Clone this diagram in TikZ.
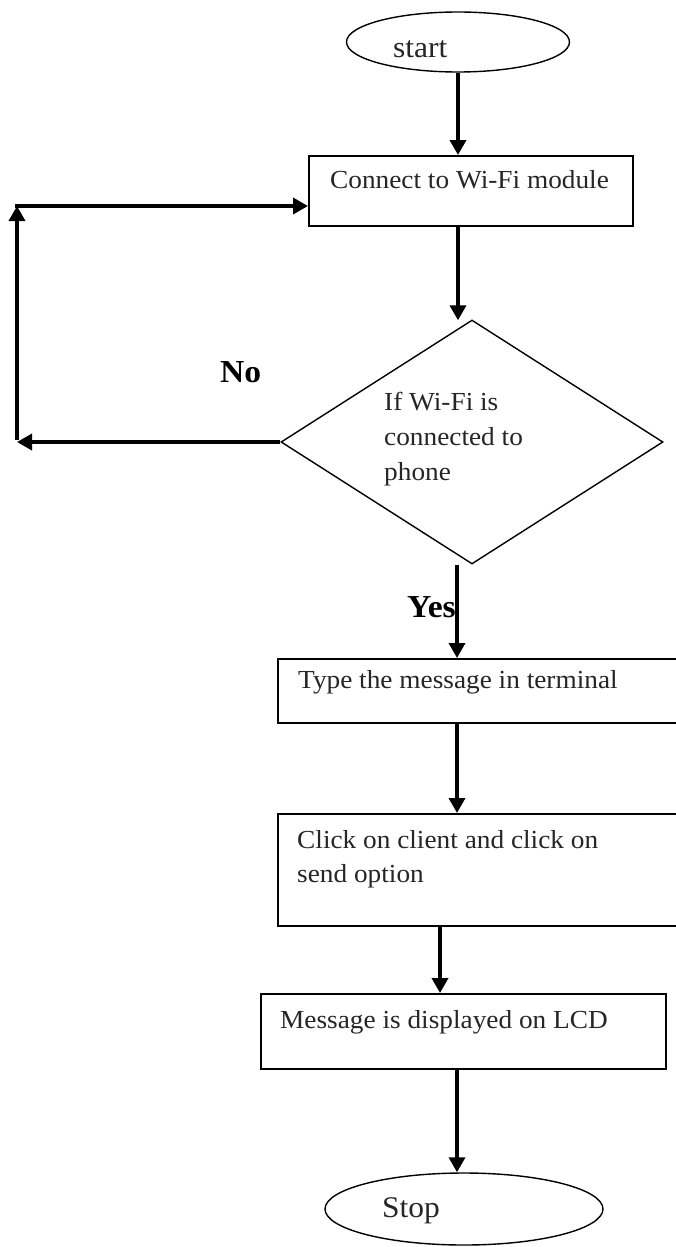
\documentclass[tikz,border=0pt]{standalone}
\usepackage{fontspec}
\setmainfont{Liberation Serif}[FakeStretch=1.05]
\usetikzlibrary{shapes.geometric,arrows.meta}
\begin{document}
\begin{tikzpicture}[x=1pt,y=-1pt,
  box/.style={draw, line width=1.8pt, rectangle, inner sep=0pt, anchor=north west},
  term/.style={draw, ellipse, line width=1.4pt, inner sep=0pt},
  decision/.style={draw, diamond, line width=1.4pt, inner sep=0pt},
  arr/.style={line width=3.5pt, -{Triangle[width=16pt,length=15pt]}},
  seg/.style={line width=3.5pt},
  txt/.style={anchor=base west, inner sep=0pt, font=\fontsize{26}{35}\selectfont, text=black!85},
  big/.style={anchor=base west, inner sep=0pt, font=\fontsize{30}{36}\selectfont, text=black!85},
  lab/.style={anchor=base west, inner sep=0pt, font=\fontsize{32}{38}\selectfont\bfseries}]
\useasboundingbox (0,0) rectangle (675,1247);
\fill[white] (0,0) rectangle (675,1247);

% start
\node[term, minimum width=223pt, minimum height=60pt] (start) at (458,42) {};
\node[big] (startt) at (393,58) {start};

% box 1
\node[box, minimum width=324pt, minimum height=70pt] (b1) at (308,155) {};
\node[txt] (t1) at (330,188) {Connect to Wi-Fi module};

% decision
\node[decision, minimum width=382pt, minimum height=244pt] (dec) at (472,442) {};
\node[txt] (d1) at (384,410) {If Wi-Fi is};
\node[txt] (d2) at (384,445) {connected to};
\node[txt] (d3) at (384,480) {phone};

% box 2
\node[box, minimum width=440pt, minimum height=64pt] (b2) at (277,658) {};
\node[txt] (t2) at (298,688) {Type the message in terminal};

% box 3
\node[box, minimum width=440pt, minimum height=112pt] (b3) at (277,813) {};
\node[txt] (t3a) at (297,848) {Click on client and click on};
\node[txt] (t3b) at (297,882) {send option};

% box 4
\node[box, minimum width=405pt, minimum height=75pt] (b4) at (260,993) {};
\node[txt] (t4) at (280,1028) {Message is displayed on LCD};

% stop
\node[term, minimum width=278pt, minimum height=72pt] (stop) at (464,1209) {};
\node[big] (stopt) at (382,1217) {Stop};

% labels
\node[lab] (no) at (220,382) {No};
\node[lab] (yes) at (407,617) {Yes};

% connectors
\draw[arr] (start.south) -- (start.south |- b1.north);
\draw[arr] (start.south |- b1.south) -- ([yshift=-1pt]start.south |- dec.north);

\coordinate (lbot) at (17,442);
\coordinate (ltop) at (17,206);
\draw[arr] (dec.west) -- (lbot);
\draw[seg] ([yshift=2pt]lbot) -- ([yshift=-4pt]ltop);
\draw[arr] ([yshift=2pt]lbot) -- (ltop);
\draw[arr] ([xshift=-1.75pt]ltop) -- (ltop -| b1.west);

\draw[arr] ([xshift=-15pt]dec.south) -- ([xshift=-15pt]dec.south |- b2.north);
\draw[arr] ([xshift=-15pt]dec.south |- b2.south) -- ([xshift=-15pt]dec.south |- b3.north);
\draw[arr] ([xshift=-32pt]dec.south |- b3.south) -- ([xshift=-32pt]dec.south |- b4.north);
\draw[arr] ([xshift=-15pt]dec.south |- b4.south) -- ([xshift=-15pt]dec.south |- stop.north);
\end{tikzpicture}
\end{document}
